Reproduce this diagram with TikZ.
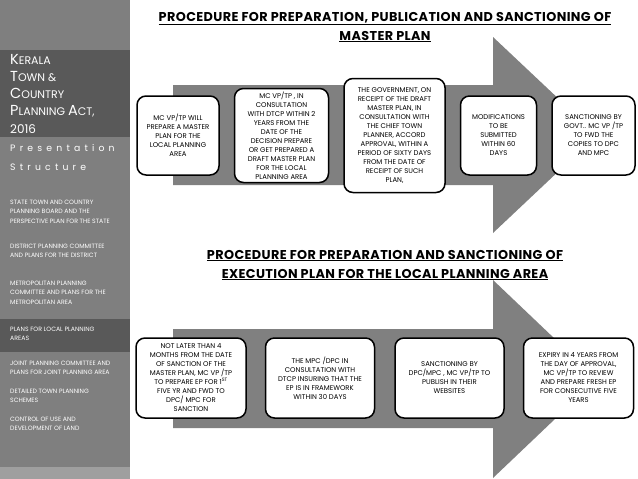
\documentclass[tikz,border=0pt]{standalone}
\usepackage{fontspec}
\setmainfont{Poppins}
\usepackage{tikz}
\usetikzlibrary{positioning}
\definecolor{Side}{HTML}{7F7F7F}
\definecolor{SideDark}{HTML}{595959}
\definecolor{Flow}{HTML}{808080}
\newcommand\capfirst[2]{{\fontsize{14.5}{17.2}\selectfont #1}{\fontsize{11}{17.2}\selectfont #2}}

\begin{document}
\begin{tikzpicture}[x=1pt,y=-1pt,node distance=14pt,
  stepbox/.style={draw,line width=1.5pt,rounded corners=9pt,fill=white,align=center,inner sep=2pt,font=\fontsize{6.9}{9}\selectfont},
  heading/.style={align=center,font=\fontsize{12.8}{19}\selectfont\bfseries\addfontfeature{LetterSpace=3}},
  menu/.style={anchor=north west,align=left,inner sep=0pt,text=white,font=\fontsize{6.2}{9.3}\selectfont}]
  \useasboundingbox (0,0) rectangle (638,479);
  % side panel
  \fill[Side] (0,0) rectangle (130,479);
  \fill[SideDark] (0,50) rectangle (130,137);
  \fill[SideDark] (0,319) rectangle (130,352);
  \fill[Side!75!white] (0,467) rectangle (130,479);
  \node[anchor=north west,align=left,inner sep=0pt,text=white,font=\fontsize{11}{17.2}\selectfont] (act) at (10,54)
    {\capfirst{K}{ERALA}\\\capfirst{T}{OWN \&}\\\capfirst{C}{OUNTRY}\\\capfirst{P}{LANNING} \capfirst{A}{CT,}\\{\fontsize{12}{17.2}\selectfont 2016}};
  \node[anchor=west,align=left,inner sep=0pt,text=white,font=\fontsize{9.3}{19}\selectfont\addfontfeature{LetterSpace=45}] (pres) at (10,158) {Presentation\\Structure};
  \node[menu] (m1) at (10,200) {STATE TOWN AND COUNTRY\\PLANNING BOARD AND THE\\PERSPECTIVE PLAN FOR THE STATE};
  \node[menu] (m2) at (10,244) {DISTRICT PLANNING COMMITTEE\\AND PLANS FOR THE DISTRICT};
  \node[menu] (m3) at (10,281) {METROPOLITAN PLANNING\\COMMITTEE AND PLANS FOR THE\\METROPOLITAN AREA};
  \node[menu] (m4) at (10,327) {PLANS FOR LOCAL PLANNING\\AREAS};
  \node[menu] (m5) at (10,361) {JOINT PLANNING COMMITTEE AND\\PLANS FOR JOINT PLANNING AREA};
  \node[menu] (m6) at (10,389) {DETAILED TOWN PLANNING\\SCHEMES};
  \node[menu] (m7) at (10,417) {CONTROL OF USE AND\\DEVELOPMENT OF LAND};
  % master plan
  \node[heading] (title1) at (385,27) {\underline{PROCEDURE FOR PREPARATION, PUBLICATION AND SANCTIONING OF}\\\underline{MASTER PLAN}};
  \fill[Flow] (173,85) -- (493,85) -- (493,37) -- (597,135) -- (493,233) -- (493,185) -- (173,185) -- cycle;
  \node[stepbox,minimum width=82pt,minimum height=79pt] (prep) at (178,135.5) {MC VP/TP WILL\\PREPARE A MASTER\\PLAN FOR THE\\LOCAL PLANNING\\AREA};
  \node[stepbox,minimum width=94pt,minimum height=94pt,right=of prep] (draft) {MC VP/TP , IN\\CONSULTATION\\WITH DTCP WITHIN 2\\YEARS FROM THE\\DATE OF THE\\DECISION PREPARE\\OR GET PREPARED A\\DRAFT MASTER PLAN\\FOR THE LOCAL\\PLANNING AREA};
  \node[stepbox,minimum width=101pt,minimum height=114pt,right=of draft] (govt) {THE GOVERNMENT, ON\\RECEIPT OF THE DRAFT\\MASTER PLAN, IN\\CONSULTATION WITH\\THE CHIEF TOWN\\PLANNER, ACCORD\\APPROVAL, WITHIN A\\PERIOD OF SIXTY DAYS\\FROM THE DATE OF\\RECEIPT OF SUCH\\PLAN,};
  \node[stepbox,minimum width=76pt,minimum height=79pt,right=of govt] (modif) {MODIFICATIONS\\TO BE\\SUBMITTED\\WITHIN 60\\DAYS};
  \node[stepbox,minimum width=83pt,minimum height=79pt,right=of modif] (sanc) {SANCTIONING BY\\GOVT.. MC VP /TP\\TO FWD THE\\COPIES TO DPC\\AND MPC};
  % execution plan
  \node[heading] (title2) at (385,265) {\underline{PROCEDURE FOR PREPARATION AND SANCTIONING OF}\\\underline{EXECUTION PLAN FOR THE LOCAL PLANNING AREA}};
  \fill[Flow] (173,329) -- (493,329) -- (493,280) -- (597,379) -- (493,478) -- (493,428) -- (173,428) -- cycle;
  \node[stepbox,minimum width=110pt,minimum height=80pt] (ep) at (191,378) {NOT LATER THAN 4\\MONTHS FROM THE DATE\\OF SANCTION OF THE\\MASTER PLAN, MC VP /TP\\TO PREPARE EP FOR 1\textsuperscript{ST}\\FIVE YR AND FWD TO\\DPC/ MPC FOR\\SANCTION};
  \node[stepbox,minimum width=109pt,minimum height=80pt,right=18pt of ep] (check) {THE MPC /DPC IN\\CONSULTATION WITH\\DTCP INSURING THAT THE\\EP IS IN FRAMEWORK\\WITHIN 30 DAYS};
  \node[stepbox,minimum width=109pt,minimum height=80pt,right=19pt of check] (publish) {SANCTIONING BY\\DPC/MPC , MC VP/TP TO\\PUBLISH IN THEIR\\WEBSITES};
  \node[stepbox,minimum width=110pt,minimum height=80pt,right=18pt of publish] (review) {EXPIRY IN 4 YEARS FROM\\THE DAY OF APPROVAL,\\MC VP/TP TO REVIEW\\AND PREPARE FRESH EP\\FOR CONSECUTIVE FIVE\\YEARS};
\end{tikzpicture}
\end{document}
